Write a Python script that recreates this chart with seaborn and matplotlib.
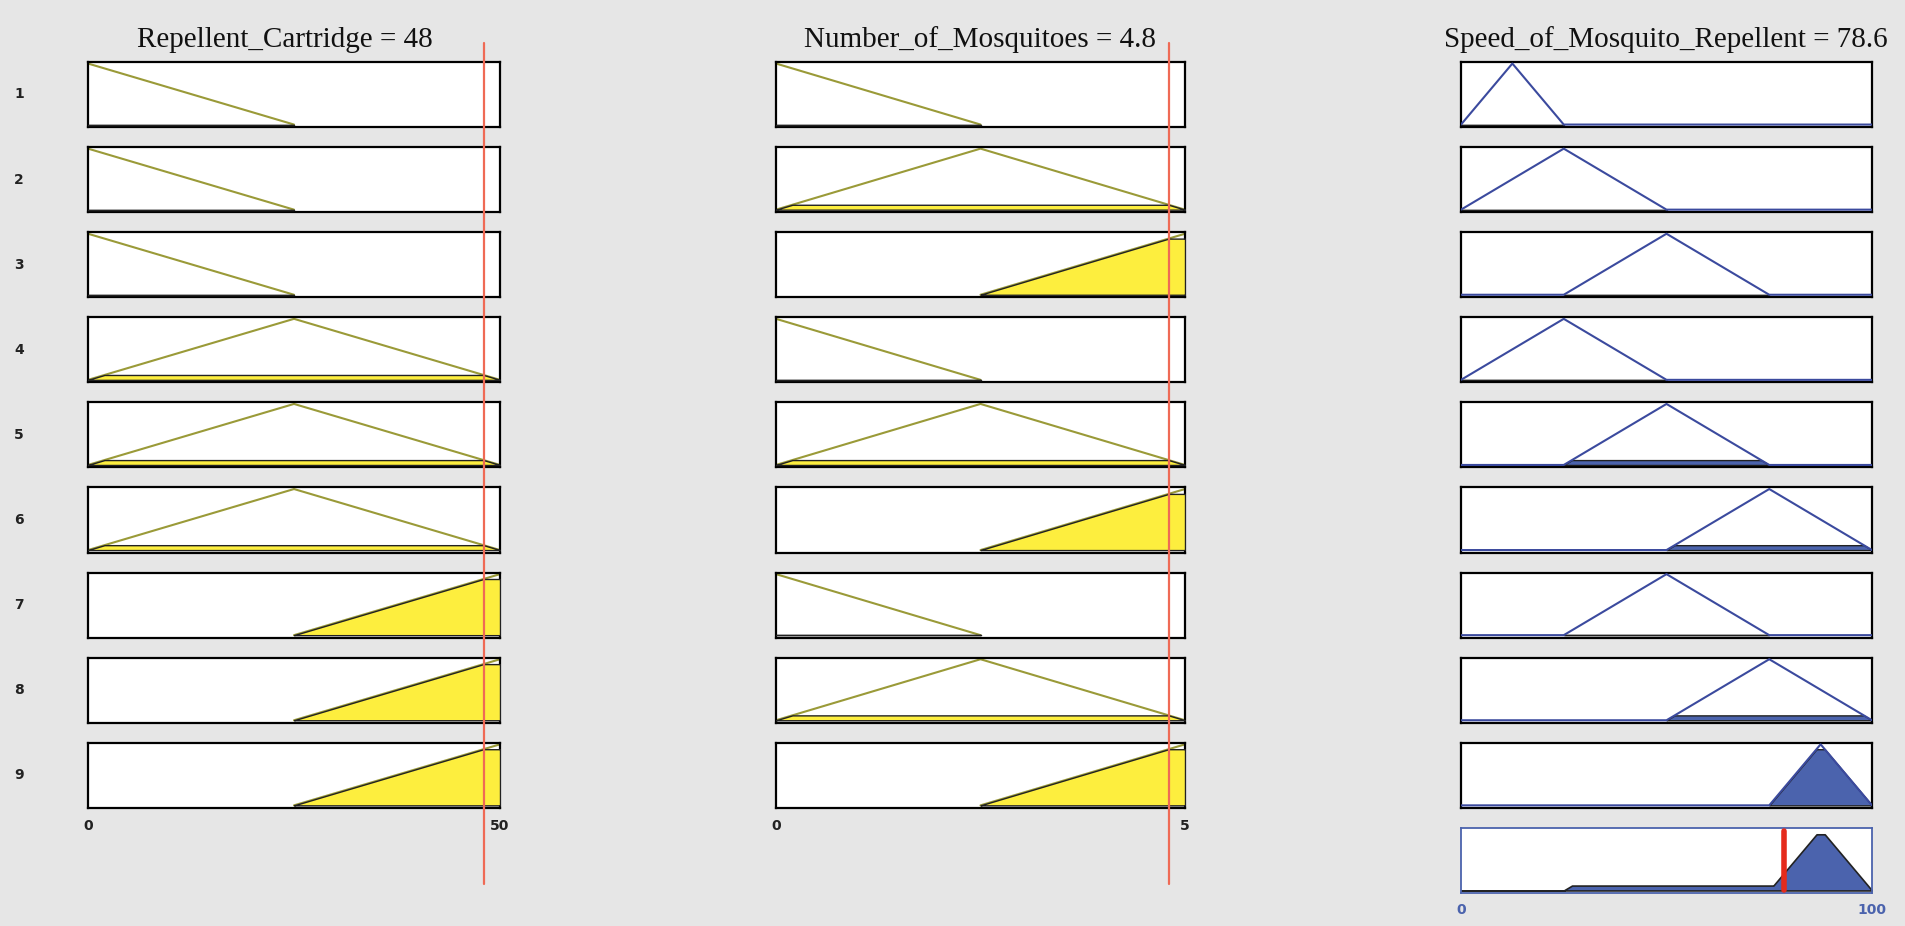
import numpy as np
import matplotlib
matplotlib.use("Agg")
import matplotlib.pyplot as plt
import matplotlib.transforms as mtransforms
import seaborn as sns

# ---------------- data ----------------
input_names = ["Repellent_Cartridge", "Number_of_Mosquitoes"]
input_ranges = [(0, 50), (0, 5)]
input_values = [48, 4.8]
# membership functions (triangle vertices a, b, c) per input: low, medium, high
input1_mfs = [(-25, 0, 25), (0, 25, 50), (25, 50, 75)]
input2_mfs = [(-2.5, 0, 2.5), (0, 2.5, 5), (2.5, 5, 7.5)]
input_mfs = [input1_mfs, input2_mfs]

output_name = "Speed_of_Mosquito_Repellent"
output_range = (0, 100)
output_value = 78.6
# very slow, slow, medium, fast, very fast
output_mfs = [(0, 12.5, 25), (0, 25, 50), (25, 50, 75), (50, 75, 100), (75, 87.5, 100)]

# rules: antecedent MF index for input 1, input 2, consequent MF index
rule_in1 = [0, 0, 0, 1, 1, 1, 2, 2, 2]
rule_in2 = [0, 1, 2, 0, 1, 2, 0, 1, 2]
rule_out = [0, 1, 2, 1, 2, 3, 2, 3, 4]
row_labels = ["1", "2", "3", "4", "5", "6", "7", "8", "9"]

# ---------------- style ----------------
sns.set_theme(style="white")
plt.rcParams["font.family"] = ["DejaVu Sans"]

BG = "#e6e6e6"
OLIVE = "#9a9a38"
YELLOW = "#fdee3e"
BLUE_LINE = "#3b4a9e"
BLUE_FILL = "#4b63ad"
RED_IN = "#ef6a55"
RED_OUT = "#e52b1c"

W, H = 1905, 926
fig = plt.figure(figsize=(W / 100, H / 100), dpi=100, facecolor=BG)

col_left = [88, 776, 1461]
col_width = [412, 409, 411]
title_cx = [285, 980, 1666]
row_top0 = 62
row_pitch = 85.1
row_h = 65
YLIM = (-0.04, 1.025)


def mu(mf, x):
    a, b, c = mf
    return np.interp(x, [a, b, c], [0.0, 1.0, 0.0])


def make_ax(col, row, spine="black", lw=1.6):
    top = row_top0 + row_pitch * row
    rect = [col_left[col] / W, 1 - (top + row_h) / H, col_width[col] / W, row_h / H]
    ax = fig.add_axes(rect, facecolor="white")
    ax.set_ylim(*YLIM)
    ax.set_yticks([])
    ax.set_xticks([])
    for s in ax.spines.values():
        s.set_color(spine)
        s.set_linewidth(lw)
        s.set_visible(True)
    return ax


# firing strengths (min of antecedent memberships)
firing = []
for r in range(9):
    m1 = float(mu(input_mfs[0][rule_in1[r]], input_values[0]))
    m2 = float(mu(input_mfs[1][rule_in2[r]], input_values[1]))
    firing.append(min(m1, m2))

for r in range(9):
    ants = [rule_in1[r], rule_in2[r]]
    for c in range(2):
        lo, hi = input_ranges[c]
        ax = make_ax(c, r)
        ax.set_xlim(lo, hi)
        mf = input_mfs[c][ants[c]]
        a, b, cc = mf
        xs = np.array([a, b, cc], dtype=float)
        xl = np.clip(xs, lo, hi)
        yl = mu(mf, xl)
        keep = np.concatenate([[True], np.diff(xl) > 0])
        sns.lineplot(x=xl[keep], y=yl[keep], ax=ax, color=OLIVE, lw=1.5,
                     estimator=None, sort=False, legend=False)
        level = float(mu(mf, input_values[c]))
        xg = np.linspace(max(a, lo), min(cc, hi), 401)
        yg = np.minimum(mu(mf, xg), level)
        ax.fill_between(xg, 0, yg, facecolor=YELLOW, edgecolor="#222222", lw=1.0, zorder=3)
        ax.set_xlabel("")
        ax.set_ylabel("")
        if r == 8:
            ax.set_xticks([lo, hi])
            ax.set_xticklabels([f"{lo:g}", f"{hi:g}"], fontsize=10, fontweight="bold", color="#222222")
            ax.tick_params(axis="x", length=0, pad=8)
            trans = mtransforms.blended_transform_factory(ax.transData, fig.transFigure)
            ax.plot([input_values[c], input_values[c]], [1 - 43 / H, 1 - 884 / H],
                    color=RED_IN, lw=1.6, transform=trans, clip_on=False, zorder=10)

    # output column
    lo, hi = output_range
    ax = make_ax(2, r)
    ax.set_xlim(lo, hi)
    mf = output_mfs[rule_out[r]]
    a, b, cc = mf
    xg = np.linspace(a, cc, 401)
    yg = np.minimum(mu(mf, xg), firing[r])
    ax.fill_between(xg, 0, yg, facecolor=BLUE_FILL, edgecolor="#222222", lw=1.0, zorder=2)
    xs = [a, b, cc]
    ys = [0.0, 1.0, 0.0]
    if a > lo:
        xs = [lo] + xs
        ys = [0.0] + ys
    if cc < hi:
        xs = xs + [hi]
        ys = ys + [0.0]
    sns.lineplot(x=xs, y=ys, ax=ax, color=BLUE_LINE, lw=1.5,
                 estimator=None, sort=False, legend=False, zorder=4)
    ax.set_xlabel("")
    ax.set_ylabel("")

    yc = 1 - (row_top0 + row_pitch * r + row_h / 2) / H
    fig.text(19 / W, yc, row_labels[r], ha="center", va="center",
             fontsize=10, fontweight="bold", color="#222222")

# aggregated output
lo, hi = output_range
ax = make_ax(2, 9, spine=BLUE_FILL, lw=1.3)
ax.set_xlim(lo, hi)
xg = np.linspace(lo, hi, 1001)
agg = np.zeros_like(xg)
for r in range(9):
    agg = np.maximum(agg, np.minimum(mu(output_mfs[rule_out[r]], xg), firing[r]))
ax.fill_between(xg, 0, agg, facecolor=BLUE_FILL, edgecolor="#222222", lw=1.2, zorder=2)
ax.axvline(output_value, ymin=0.04, ymax=0.96, color=RED_OUT, lw=4, zorder=5)
ax.set_xticks([lo, hi])
ax.set_xticklabels([f"{lo:g}", f"{hi:g}"], fontsize=10, fontweight="bold", color=BLUE_FILL)
ax.tick_params(axis="x", length=0, pad=7)

# titles
titles = [f"{input_names[0]} = {input_values[0]:g}",
          f"{input_names[1]} = {input_values[1]:g}",
          f"{output_name} = {output_value:g}"]
for c in range(3):
    fig.text(title_cx[c] / W, 1 - 47 / H, titles[c], ha="center", va="baseline",
             fontsize=21, family=["Liberation Serif", "DejaVu Serif"], color="#111111")

fig.savefig("out.png", dpi=100, facecolor=BG)
